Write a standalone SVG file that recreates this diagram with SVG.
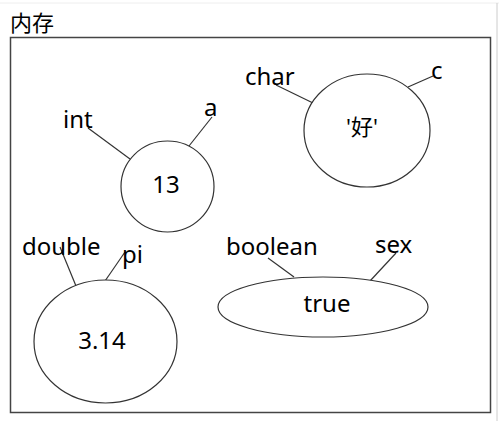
<svg xmlns="http://www.w3.org/2000/svg" width="499" height="421" viewBox="0 0 499 421">
<style>
text{font-family:"Noto Sans","Noto Sans CJK SC",sans-serif;font-size:24px;fill:#000}
.v{text-anchor:middle}
.s{fill:#fff;stroke:#333;stroke-width:1.2}
.l{stroke:#333;stroke-width:1.2;fill:none}
</style>
<rect width="499" height="421" fill="#fff"/>
<line x1="0" y1="3" x2="499" y2="3" stroke="#eee"/>
<line x1="497" y1="3" x2="497" y2="421" stroke="#ccc"/>
<text x="10" y="31" style="font-family:'Noto Sans CJK SC',sans-serif;font-size:22px">内存</text>
<rect x="10.5" y="37.5" width="480" height="375" fill="none" stroke="#444" stroke-width="1.5"/>
<g id="connectors">
<line class="l" x1="88" y1="128" x2="130" y2="159"/>
<line class="l" x1="212" y1="117" x2="189" y2="146"/>
<line class="l" x1="276" y1="85" x2="313" y2="103"/>
<line class="l" x1="408" y1="87" x2="433" y2="76"/>
<line class="l" x1="60" y1="247" x2="76" y2="286"/>
<line class="l" x1="125" y1="252" x2="105" y2="281"/>
<line class="l" x1="268" y1="258" x2="294" y2="277"/>
<line class="l" x1="396" y1="253" x2="370" y2="281"/>
</g>
<g id="int-a">
<ellipse class="s" cx="167.5" cy="186.5" rx="46.5" ry="45.5"/>
<text class="v" x="166" y="193">13</text>
<text x="63" y="128">int</text>
<text x="204" y="116">a</text>
</g>
<g id="char-c">
<ellipse class="s" cx="367" cy="130.5" rx="63" ry="56.5"/>
<text class="v" x="362" y="135" style="font-family:'Noto Sans','Noto Sans CJK SC',sans-serif;font-size:22px">'好'</text>
<text x="245" y="85">char</text>
<text x="431" y="79">c</text>
</g>
<g id="double-pi">
<ellipse class="s" cx="105.5" cy="341.5" rx="71.5" ry="61.5"/>
<text class="v" x="102" y="349">3.14</text>
<text x="22" y="255">double</text>
<text x="122" y="263">pi</text>
</g>
<g id="boolean-sex">
<ellipse class="s" cx="323" cy="307" rx="105" ry="30"/>
<text class="v" x="327" y="312">true</text>
<text x="226" y="255">boolean</text>
<text x="375" y="253">sex</text>
</g>
</svg>
